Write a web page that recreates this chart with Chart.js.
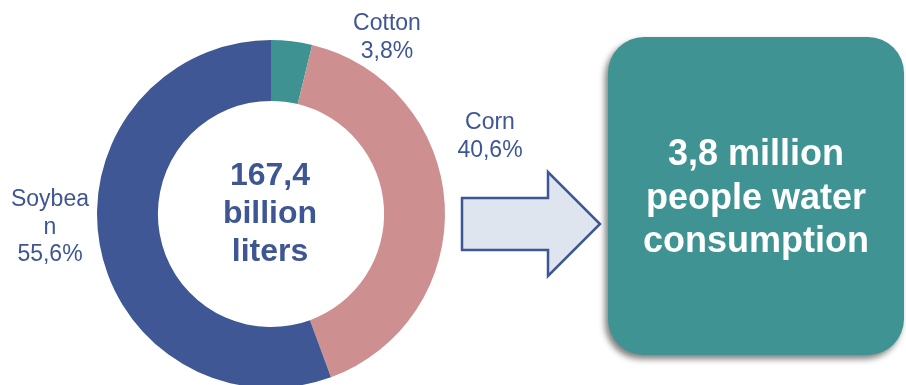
<!DOCTYPE html>
<html>
<head>
<meta charset="utf-8">
<script src="https://cdn.jsdelivr.net/npm/chart.js@4/dist/chart.umd.min.js"></script>
<style>
  html, body { margin: 0; padding: 0; background: #fff; overflow: hidden; width: 906px; height: 385px; }
  #stage { position: relative; width: 906px; height: 385px; overflow: hidden; font-family: "Liberation Sans", Arial, sans-serif; }
  #chart { position: absolute; left: 0; top: 0; }
  .lbl { position: absolute; color: #3F5695; font-size: 23px; line-height: 27.5px; text-align: center; white-space: pre; }
  #center { position: absolute; left: 170px; width: 200px; top: 155px; text-align: center; color: #3F5695;
            font-weight: bold; font-size: 32px; line-height: 38px; white-space: pre-line; }
  #box { position: absolute; left: 608px; top: 37px; width: 296px; height: 318px; background: #3F9393;
         border-radius: 36px; box-shadow: -3px 4px 6px rgba(0,0,0,0.5); }
  #boxText { position: absolute; left: 608px; width: 296px; top: 131px; text-align: center; color: #fff;
             font-weight: bold; font-size: 36px; line-height: 43.5px; white-space: pre-line; }
</style>
</head>
<body>
<div id="stage">
  <canvas id="chart" width="906" height="420"></canvas>
  <div id="box"></div>
  <div id="boxText"></div>
  <div id="center"></div>
  <div class="lbl" id="cottonLbl"></div>
  <div class="lbl" id="cornLbl"></div>
  <div class="lbl" id="soyLbl"></div>
</div>
<script>
// Water footprint by crop (share of total, %)
const crops = ['Cotton', 'Corn', 'Soybean'];
const shares = [3.8, 40.6, 55.6];
const cropColors = ['#3E9392', '#CD8F8F', '#3F5895'];
const totalBillionLiters = 167.4;
const peopleMillions = 3.8;

const fmt = v => v.toFixed(1).replace('.', ',');

// Text blocks built from the values above
document.getElementById('center').textContent = fmt(totalBillionLiters) + '\nbillion\nliters';
document.getElementById('boxText').textContent = fmt(peopleMillions) + ' million\npeople water\nconsumption';

// Break a word into pieces no wider than maxWidth
const measure = document.createElement('canvas').getContext('2d');
measure.font = '23px "Liberation Sans", Arial, sans-serif';
function wrapWord(word, maxWidth) {
  const lines = [];
  let cur = '';
  for (const ch of word) {
    if (cur && measure.measureText(cur + ch).width > maxWidth) {
      lines.push(cur);
      cur = ch;
    } else {
      cur += ch;
    }
  }
  if (cur) lines.push(cur);
  return lines;
}

// Slice labels placed around the ring
const labelSpots = {
  Cotton:  { left: 337, top: 9,   width: 100 },
  Corn:    { left: 440, top: 108, width: 100 },
  Soybean: { left: 8,   top: 185, width: 84 }
};
const labelIds = { Cotton: 'cottonLbl', Corn: 'cornLbl', Soybean: 'soyLbl' };
crops.forEach((c, i) => {
  const el = document.getElementById(labelIds[c]);
  const s = labelSpots[c];
  el.style.left = s.left + 'px';
  el.style.top = s.top + 'px';
  el.style.width = s.width + 'px';
  el.textContent = wrapWord(c, s.width).concat(fmt(shares[i]) + '%').join('\n');
});

// Block arrow pointing from the ring to the summary box
const arrowPlugin = {
  id: 'blockArrow',
  afterDraw(chart) {
    const ctx = chart.ctx;
    ctx.save();
    ctx.beginPath();
    ctx.moveTo(462, 198);
    ctx.lineTo(548, 198);
    ctx.lineTo(548, 172);
    ctx.lineTo(600, 224);
    ctx.lineTo(548, 276);
    ctx.lineTo(548, 250);
    ctx.lineTo(462, 250);
    ctx.closePath();
    ctx.fillStyle = '#DEE5EF';
    ctx.fill();
    ctx.lineWidth = 2.5;
    ctx.lineJoin = 'miter';
    ctx.strokeStyle = '#3F5695';
    ctx.stroke();
    ctx.restore();
  }
};

new Chart(document.getElementById('chart'), {
  type: 'doughnut',
  data: {
    labels: crops,
    datasets: [{
      data: shares,
      backgroundColor: cropColors,
      borderWidth: 0
    }]
  },
  options: {
    responsive: false,
    devicePixelRatio: 1,
    animation: false,
    cutout: '65%',
    layout: { padding: { left: 97, top: 40, right: 461, bottom: 32 } },
    plugins: {
      legend: { display: false },
      tooltip: { enabled: false }
    }
  },
  plugins: [arrowPlugin]
});
</script>
</body>
</html>
